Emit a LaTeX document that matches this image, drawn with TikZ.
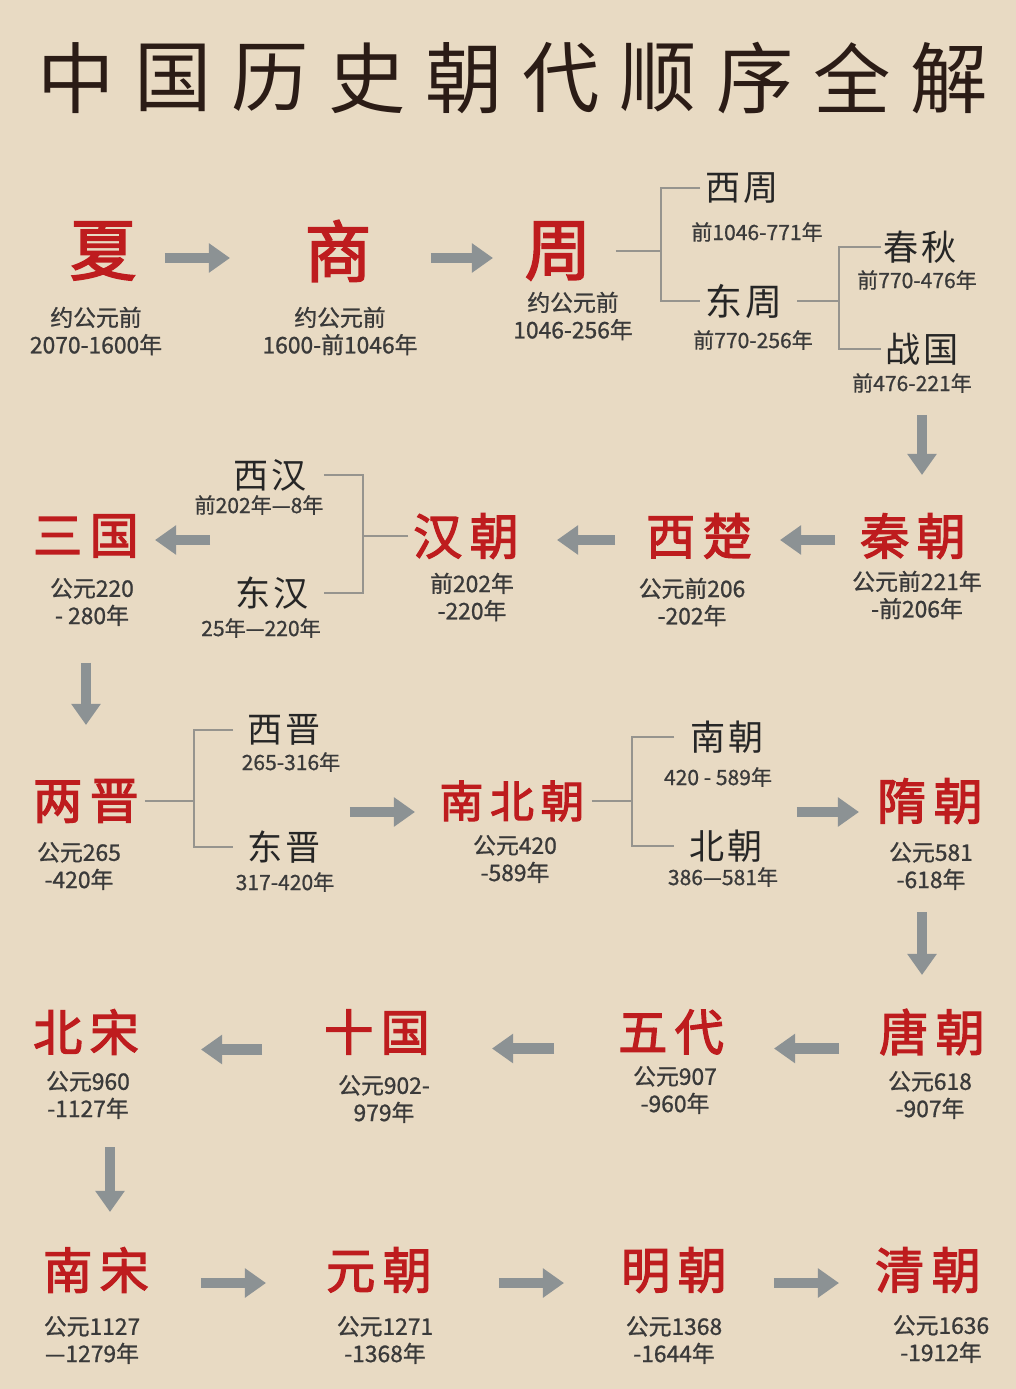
\documentclass[tikz,border=0pt]{standalone}
\usepackage{fontspec}
\setmainfont{Noto Sans CJK SC}
\usepackage{tikz}
\usetikzlibrary{arrows.meta}

\definecolor{parch}{RGB}{232,218,195}
\definecolor{chred}{RGB}{190,28,30}
\definecolor{ink}{RGB}{43,28,22}
\definecolor{dgray}{RGB}{58,58,58}
\definecolor{agray}{RGB}{140,146,148}
\definecolor{lgray}{RGB}{150,148,142}

\begin{document}
\begin{tikzpicture}[x=0.02cm, y=-0.02cm,
	every node/.style={inner sep=2pt},
	ttl/.style={text=ink, font=\fontsize{44}{48}\selectfont},
	big/.style={text=chred, font=\fontsize{38}{42}\selectfont\addfontfeature{FakeBold=2.5}},
	dyn/.style={text=chred, font=\fontsize{28}{32}\selectfont\addfontfeature{LetterSpace=15,FakeBold=2.5}},
	sub/.style={text=black!85, font=\fontsize{20}{24}\selectfont\addfontfeature{LetterSpace=10}},
	yrs/.style={text=dgray, align=center, font=\fontsize{13}{15.5}\selectfont\addfontfeature{FakeBold=1}},
	syr/.style={text=dgray, font=\fontsize{12}{14}\selectfont\addfontfeature{FakeBold=0.8}},
	blk/.style={draw=agray, line width=6pt, -{Triangle[length=12pt,width=16pt]}},
	brk/.style={draw=lgray, line width=1.2pt}]

	\fill[parch] (0,0) rectangle (1016,1389);

	% title
	\foreach \c [count=\i] in {中,国,历,史,朝,代,顺,序,全,解}
		\node[ttl] (t\i) at ({76+97*(\i-1)},78) {\c};

	% row 1
	\node[big] (xia) at (103,251) {夏};
	\node[big] (shang) at (338,251) {商};
	\node[big] (zhou) at (558,251) {周};
	\node[yrs] (xiad) at (96,331) {约公元前\\2070-1600年};
	\node[yrs] (shangd) at (340,331) {约公元前\\1600-前1046年};
	\node[yrs] (zhoud) at (573,316) {约公元前\\1046-256年};
	\node[sub] (xizhou) at (742,188) {西周};
	\node[syr] (xzd) at (757,232) {前1046-771年};
	\node[sub, font=\fontsize{21}{24}\selectfont\addfontfeature{LetterSpace=10}] (dongzhou) at (744,301) {东周};
	\node[syr] (dzd) at (753,340) {前770-256年};
	\node[sub] (chunqiu) at (920,247) {春秋};
	\node[syr] (cqd) at (917,280) {前770-476年};
	\node[sub] (zhanguo) at (922,349) {战国};
	\node[syr] (zgd) at (912,383) {前476-221年};
	\coordinate (zhoubr) at (661,251);
	\coordinate (dzbr) at (839,301);

	% row 2
	\node[dyn] (qin) at (913,536) {秦朝};
	\node[dyn] (xichu) at (699,536) {西楚};
	\node[dyn] (han) at (466,536) {汉朝};
	\node[dyn] (sanguo) at (86,536) {三国};
	\node[yrs] (qind) at (917,595) {公元前221年\\-前206年};
	\node[yrs] (xcd) at (692,602) {公元前206\\-202年};
	\node[yrs] (hand) at (472,597) {前202年\\-220年};
	\node[yrs] (sgd) at (92,602) {公元220\\- 280年};
	\node[sub] (xihan) at (270,475) {西汉};
	\node[syr] (xhd) at (259,505) {前202年—8年};
	\node[sub] (donghan) at (272,593) {东汉};
	\node[syr] (dhd) at (261,628) {25年—220年};
	\coordinate (hanbr) at (363,536);

	% row 3
	\node[dyn] (liangjin) at (86,801) {两晋};
	\node[dyn, font=\fontsize{25}{28}\selectfont\addfontfeature{LetterSpace=15,FakeBold=2.5}] (nbc) at (512,801) {南北朝};
	\node[dyn] (sui) at (930,801) {隋朝};
	\node[yrs] (ljd) at (79,866) {公元265\\-420年};
	\node[yrs] (nbcd) at (515,859) {公元420\\-589年};
	\node[yrs] (suid) at (931,866) {公元581\\-618年};
	\node[sub] (xijin) at (284,730) {西晋};
	\node[syr] (xjd) at (291,762) {265-316年};
	\node[sub] (dongjin) at (284,847) {东晋};
	\node[syr] (djd) at (285,882) {317-420年};
	\node[sub] (nanchao) at (727,737) {南朝};
	\node[syr] (ncd) at (718,777) {420 - 589年};
	\node[sub] (beichao) at (726,846) {北朝};
	\node[syr] (bcd) at (723,877) {386—581年};
	\coordinate (jinbr) at (194,801);
	\coordinate (nbcbr) at (632,801);

	% row 4
	\node[dyn] (tang) at (932,1032) {唐朝};
	\node[dyn] (wudai) at (671,1032) {五代};
	\node[dyn] (shiguo) at (377,1032) {十国};
	\node[dyn] (beisong) at (86,1032) {北宋};
	\node[yrs] (tangd) at (930,1095) {公元618\\-907年};
	\node[yrs] (wdd) at (675,1090) {公元907\\-960年};
	\node[yrs] (shgd) at (384,1099) {公元902-\\979年};
	\node[yrs] (bsd) at (88,1095) {公元960\\-1127年};

	% row 5
	\node[dyn] (nansong) at (96,1270) {南宋};
	\node[dyn] (yuan) at (379,1270) {元朝};
	\node[dyn] (ming) at (674,1270) {明朝};
	\node[dyn] (qing) at (928,1270) {清朝};
	\node[yrs] (nsd) at (92,1340) {公元1127\\—1279年};
	\node[yrs] (yd) at (385,1340) {公元1271\\-1368年};
	\node[yrs] (md) at (674,1340) {公元1368\\-1644年};
	\node[yrs] (qd) at (941,1339) {公元1636\\-1912年};

	% brackets
	\draw[brk, shorten <=11.6mm] (zhou.center) -- (zhoubr);
	\draw[brk, shorten <=8.4mm, shorten >=8.8mm] (xizhou.center) -| (zhoubr) |- (dongzhou.center);
	\draw[brk, shorten <=10.6mm] (dongzhou.center) -- (dzbr);
	\draw[brk, shorten <=7.8mm, shorten >=8.2mm] (chunqiu.center) -| (dzbr) |- (zhanguo.center);
	\draw[brk, shorten <=11.6mm] (han.center) -- (hanbr);
	\draw[brk, shorten <=10.8mm, shorten >=10.4mm] (xihan.center) -| (hanbr) |- (donghan.center);
	\draw[brk, shorten <=11.8mm] (liangjin.center) -- (jinbr);
	\draw[brk, shorten <=10.2mm, shorten >=10.2mm] (xijin.center) -| (jinbr) |- (dongjin.center);
	\draw[brk, shorten <=16mm] (nbc.center) -- (nbcbr);
	\draw[brk, shorten <=10.6mm, shorten >=10.4mm] (nanchao.center) -| (nbcbr) |- (beichao.center);

	% arrows
	\draw[blk, shorten <=12.4mm, shorten >=21.6mm] ([yshift=-1.4mm]xia.center) -- ([yshift=-1.4mm]shang.center);
	\draw[blk, shorten <=18.6mm, shorten >=13mm] ([yshift=-1.4mm]shang.center) -- ([yshift=-1.4mm]zhou.center);
	\draw[blk, shorten <=6.4mm, shorten >=12.2mm] ([xshift=2mm]zgd.center) -- ([xshift=2mm]zgd.center |- qin.center);
	\draw[blk, shorten <=15.6mm, shorten >=16.2mm] ([yshift=-0.8mm]qin.center) -- ([yshift=-0.8mm]xichu.center);
	\draw[blk, shorten <=16.8mm, shorten >=18.2mm] ([yshift=-0.8mm]xichu.center) -- ([yshift=-0.8mm]han.center);
	\draw[blk, shorten <=51.2mm, shorten >=13.8mm] ([yshift=-0.8mm]han.center) -- ([yshift=-0.8mm]sanguo.center);
	\draw[blk, shorten <=12.2mm, shorten >=15.2mm] (sgd.center -| liangjin.center) -- (liangjin.center);
	\draw[blk, shorten <=52.8mm, shorten >=19.4mm] ([yshift=-2.2mm]liangjin.center) -- ([yshift=-2.2mm]nbc.center);
	\draw[blk, shorten <=57mm, shorten >=14.2mm] ([yshift=-2.2mm]nbc.center) -- ([yshift=-2.2mm]sui.center);
	\draw[blk, shorten <=9.2mm, shorten >=11.4mm] ([xshift=-1.8mm]suid.center) -- ([xshift=-1.8mm]suid.center |- tang.center);
	\draw[blk, shorten <=18.6mm, shorten >=20.6mm] ([yshift=-3.3mm]tang.center) -- ([yshift=-3.3mm]wudai.center);
	\draw[blk, shorten <=23.4mm, shorten >=23mm] ([yshift=-3.3mm]wudai.center) -- ([yshift=-3.3mm]shiguo.center);
	\draw[blk, shorten <=23mm, shorten >=23mm] ([yshift=-3.5mm]shiguo.center) -- ([yshift=-3.5mm]beisong.center);
	\draw[blk, shorten <=10.4mm, shorten >=11.6mm] ([xshift=4.4mm]bsd.center) -- ([xshift=4.4mm]bsd.center |- nansong.center);
	\draw[blk, shorten <=21mm, shorten >=22.6mm] ([yshift=-2.6mm]nansong.center) -- ([yshift=-2.6mm]yuan.center);
	\draw[blk, shorten <=24mm, shorten >=22mm] ([yshift=-2.6mm]yuan.center) -- ([yshift=-2.6mm]ming.center);
	\draw[blk, shorten <=20mm, shorten >=17.8mm] ([yshift=-2.6mm]ming.center) -- ([yshift=-2.6mm]qing.center);

\end{tikzpicture}
\end{document}
